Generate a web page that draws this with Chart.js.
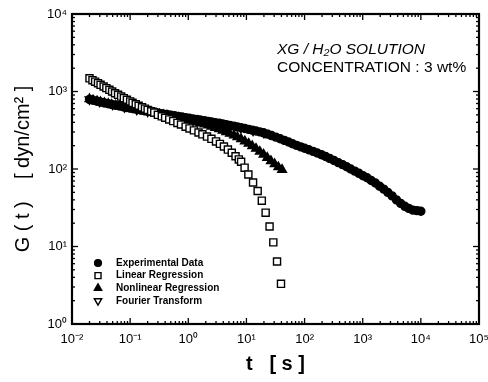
<!DOCTYPE html>
<html><head><meta charset="utf-8">
<script src="https://cdn.jsdelivr.net/npm/chart.js@4.4.1/dist/chart.umd.min.js"></script>
<style>html,body{margin:0;padding:0;background:#fff}#wrap{width:488px;height:382px}</style>
</head><body><div id="wrap"><canvas id="c" width="488" height="382"></canvas></div>
<script>
// ---- tick labels ----
const xTickValues = [1e-2, 1e-1, 1e0, 1e1, 1e2, 1e3, 1e4, 1e5];
const xTickLabels = ['10\u207B\u00B2', '10\u207B\u00B9', '10\u2070', '10\u00B9', '10\u00B2', '10\u00B3', '10\u2074', '10\u2075'];
const yTickValues = [1e0, 1e1, 1e2, 1e3, 1e4];
const yTickLabels = ['10\u2070', '10\u00B9', '10\u00B2', '10\u00B3', '10\u2074'];

// ---- series ----
const seriesNames = ['Experimental Data', 'Linear Regression', 'Nonlinear Regression', 'Fourier Transform'];

const tExp = [0.02,0.023,0.027,0.031,0.036,0.042,0.048,0.056,0.065,0.075,0.087,0.1,0.116,0.134,0.155,0.18,0.21,0.24,0.28,0.32,0.37,0.43,0.5,0.58,0.67,0.78,0.9,1.04,1.2,1.4,1.6,1.9,2.2,2.5,2.9,3.4,3.9,4.5,5.2,6.1,7,8.1,9.4,10.9,12.6,14.6,17,19.7,
  23,27,32,38,45,53,62,73,86,100,118,140,165,195,230,270,320,380,450,530,620,730,860,1010,1190,1400,1650,1950,2300,2700,3200,3800,4500,5300,6200,7300,8600,10000];
const gExp = [790,770,750,730,712,695,680,665,650,637,622,610,598,586,575,563,552,542,532,522,513,504,495,486,477,468,460,452,444,436,428,420,412,405,397,389,381,373,365,357,349,341,333,325,317,309,301,293,
  282,270,258,246,234,223,212,202,193,185,177,169,161,153,145,137,129,121,114,107,100,94,88,82,77,71,66,60,55,50,45,40,36,33,31,29.5,29,28.5];

const tLin = [0.02,0.0225,0.025,0.028,0.031,0.035,0.039,0.044,0.049,0.055,0.062,0.07,0.078,0.088,0.1,0.11,0.125,0.14,0.16,0.18,0.2,0.23,0.26,0.3,0.35,0.4,0.47,0.55,0.65,0.75,0.9,1.05,1.25,1.5,1.75,2.1,2.5,3,3.5,4.1,4.8,5.6,6.5,7.4,8.1,9.3,10.8,13,15.6,18.4,21.4,25,29,33.6,39.3];
const gLin = [1480,1400,1340,1280,1220,1160,1105,1050,1000,950,905,860,820,782,745,715,685,655,625,600,578,555,535,500,478,458,436,415,393,375,352,334,315,296,280,262,245,227,211,195,178,162,146,133,124,104,85,67,52,39,27.3,18.1,11.3,6.4,3.3];

const tNon = [0.02,0.023,0.027,0.031,0.036,0.042,0.048,0.056,0.065,0.075,0.087,0.1,0.116,0.134,0.155,0.18,0.21,0.24,0.28,0.32,0.37,0.43,0.5,0.58,0.67,0.78,0.9,1.04,1.2,1.4,1.6,1.9,2.2,2.5,2.9,3.4,3.9,4.5,5.2,6.1,7,8.1,9.4,10.9,12.6,14.6,17,19.7,22.8,26.4,30.6,35.4,41];
const gNon = [800,775,752,732,713,695,679,663,648,634,620,607,594,581,569,557,545,534,522,511,500,489,478,467,456,445,434,423,412,400,389,377,365,353,340,327,314,300,286,272,258,243,228,213,198,183,168,154,140,127,116,106,98];

const tFou = [0.02,0.03,0.05,0.08,0.13,0.2,0.32,0.5,0.8,1.3,2,3.2,5,8,13,20];
const gFou = [790,740,680,628,583,552,522,495,465,440,416,392,367,340,312,292];

// ---- annotation text ----
const noteLine1 = 'XG / H\u2082O SOLUTION';
const noteLine2 = 'CONCENTRATION : 3 wt%';

const pts = (t, g) => t.map((v, i) => ({x: v, y: g[i]}));
const FONT = "'Liberation Sans', Arial, sans-serif";

const styles = [
  {pointStyle: 'circle', radius: 4, bg: '#000', rotation: 0, order: 1},
  {pointStyle: 'rect', radius: 5, bg: '#fff', rotation: 0, order: 0},
  {pointStyle: 'triangle', radius: 5, bg: '#000', rotation: 0, order: 2},
  {pointStyle: 'triangle', radius: 5, bg: '#fff', rotation: 180, order: 3},
];
const seriesData = [pts(tExp, gExp), pts(tLin, gLin), pts(tNon, gNon), pts(tFou, gFou)];

const framePlugin = {
  id: 'frame',
  afterDraw(chart) {
    const {ctx, chartArea: a, scales: {x, y}} = chart;
    ctx.save();
    ctx.strokeStyle = '#000';
    ctx.lineWidth = 1.3;
    const line = (x1, y1, x2, y2) => { ctx.beginPath(); ctx.moveTo(x1, y1); ctx.lineTo(x2, y2); ctx.stroke(); };
    const decadesX = xTickValues.slice(0, -1);
    decadesX.forEach(d => { for (let m = 1; m <= 9; m++) {
      const px = x.getPixelForValue(d * m); const L = m === 1 ? 6 : 3;
      line(px, a.bottom, px, a.bottom - L); line(px, a.top, px, a.top + L);
    }});
    const decadesY = yTickValues.slice(0, -1);
    decadesY.forEach(d => { for (let m = 1; m <= 9; m++) {
      const py = y.getPixelForValue(d * m); const L = m === 1 ? 6 : 3;
      line(a.left, py, a.left + L, py); line(a.right, py, a.right - L, py);
    }});
    ctx.lineWidth = 2.2;
    ctx.strokeRect(a.left, a.top, a.right - a.left, a.bottom - a.top);
    // annotation
    ctx.fillStyle = '#000';
    ctx.textBaseline = 'middle';
    ctx.textAlign = 'left';
    ctx.font = 'italic 15.5px ' + FONT;
    ctx.fillText(noteLine1, 277, 50);
    ctx.font = '15.5px ' + FONT;
    ctx.fillText(noteLine2, 277, 68);
    // legend
    const lx = 98, tx = 116, ly0 = 263, dy = 12.6;
    ctx.font = 'bold 10px ' + FONT;
    seriesNames.forEach((name, i) => {
      const s = styles[i];
      const yy = ly0 + i * dy;
      ctx.fillStyle = s.bg; ctx.strokeStyle = '#000'; ctx.lineWidth = 1.4;
      Chart.helpers.drawPoint(ctx, {pointStyle: s.pointStyle, radius: s.radius * 0.85, rotation: s.rotation, borderWidth: 1.4}, lx, yy);
      ctx.fillStyle = '#000';
      ctx.fillText(name, tx, yy);
    });
    ctx.restore();
  }
};

new Chart(document.getElementById('c'), {
  type: 'scatter',
  data: {
    datasets: seriesData.map((d, i) => ({
      label: seriesNames[i], data: d, showLine: false, order: styles[i].order,
      pointStyle: styles[i].pointStyle, pointRadius: styles[i].radius, pointRotation: styles[i].rotation,
      backgroundColor: styles[i].bg, borderColor: '#000', borderWidth: 1.4, pointHoverRadius: styles[i].radius
    }))
  },
  options: {
    responsive: false, animation: false, devicePixelRatio: 1,
    layout: {padding: {top: 14, right: 9, left: 0, bottom: 0}},
    plugins: {legend: {display: false}, tooltip: {enabled: false}},
    scales: {
      x: {
        type: 'logarithmic', min: 1e-2, max: 1e5, position: 'bottom',
        afterBuildTicks: s => { s.ticks = xTickValues.map(v => ({value: v, major: true})); },
        afterFit: s => { s.height = 58; s.paddingLeft = 0; s.paddingRight = 0; },
        grid: {display: false, drawTicks: false},
        border: {display: false},
        ticks: {color: '#000', font: {family: FONT, size: 13}, padding: 8, autoSkip: false, maxRotation: 0,
          callback: (v, i) => xTickLabels[i]},
        title: {display: true, text: 't   [ s ]', color: '#000', font: {family: FONT, size: 20, weight: 'bold'}, padding: {top: 0, bottom: 6}}
      },
      y: {
        type: 'logarithmic', min: 1e0, max: 1e4, position: 'left',
        afterBuildTicks: s => { s.ticks = yTickValues.map(v => ({value: v, major: true})); },
        afterFit: s => { s.width = 72; s.paddingTop = 0; s.paddingBottom = 0; },
        grid: {display: false, drawTicks: false},
        border: {display: false},
        ticks: {color: '#000', font: {family: FONT, size: 13}, padding: 5, autoSkip: false,
          callback: (v, i) => yTickLabels[i]},
        title: {display: true, text: 'G ( t )    [ dyn/cm\u00B2 ]', color: '#000', font: {family: FONT, size: 20}, padding: {top: 11, bottom: 0}}
      }
    }
  },
  plugins: [framePlugin]
});
</script></body></html>
